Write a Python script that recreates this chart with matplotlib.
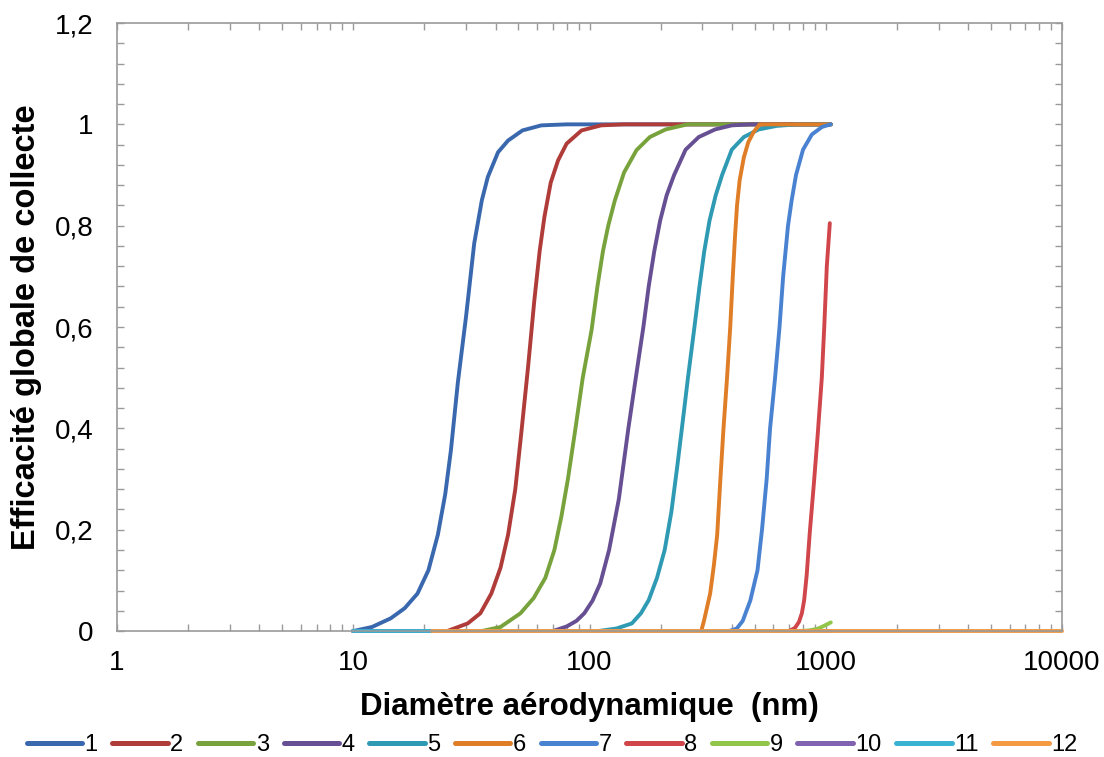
import matplotlib
matplotlib.use("Agg")
import matplotlib.pyplot as plt
from matplotlib.ticker import FuncFormatter, LogLocator, MultipleLocator

plt.rcParams['font.family'] = ['Liberation Sans', 'DejaVu Sans']

# diametre (nm) / efficacite
d1 = [10, 12, 14.4, 16.5, 18.7, 20.8, 22.8, 24.5, 25.9, 27.7, 30.0, 32.5, 35.0, 37.1, 41.0, 45.2, 52.0, 62.5, 80.0, 1050]
e1 = [0, 0.008, 0.025, 0.045, 0.074, 0.12, 0.19, 0.27, 0.357, 0.49, 0.62, 0.765, 0.85, 0.896, 0.945, 0.968, 0.988, 0.998, 1.0, 1.0]

d2 = [10, 25, 30.5, 34.5, 38.4, 42, 45.2, 48.5, 51.4, 54.9, 58.4, 61.5, 64.4, 68.5, 73.6, 80, 92.5, 112, 140, 1050]
e2 = [0, 0, 0.015, 0.035, 0.074, 0.125, 0.19, 0.28, 0.39, 0.52, 0.653, 0.75, 0.817, 0.885, 0.929, 0.962, 0.988, 0.998, 1.0, 1.0]

d3 = [10, 35, 42, 51, 58, 65, 71, 76, 81, 87, 93.6, 102, 108, 114, 120, 128, 140, 158, 180, 210, 260, 1050]
e3 = [0, 0, 0.008, 0.035, 0.065, 0.105, 0.16, 0.226, 0.30, 0.397, 0.5, 0.594, 0.68, 0.75, 0.80, 0.85, 0.905, 0.949, 0.975, 0.99, 1.0, 1.0]

d4 = [10, 70, 80, 88, 95, 103, 111, 121, 133, 146, 157, 169, 178, 188, 199, 212, 228, 255, 290, 340, 400, 480, 1050]
e4 = [0, 0, 0.009, 0.02, 0.035, 0.06, 0.094, 0.16, 0.26, 0.40, 0.50, 0.60, 0.68, 0.75, 0.81, 0.86, 0.90, 0.95, 0.975, 0.99, 0.998, 1.0, 1.0]

d5 = [10, 109, 130, 151, 165, 178, 193, 208, 222, 235, 246, 261, 278, 292, 306, 322, 342, 364, 400, 450, 520, 620, 760, 1050]
e5 = [0, 0, 0.005, 0.015, 0.035, 0.061, 0.105, 0.16, 0.235, 0.324, 0.40, 0.50, 0.60, 0.68, 0.75, 0.81, 0.86, 0.90, 0.95, 0.975, 0.99, 0.997, 1.0, 1.0]

d6 = [10, 297, 305, 324, 336, 347, 358, 369, 382, 394, 404, 413, 421, 432, 450, 470, 495, 525, 1050]
e6 = [0, 0, 0.02, 0.074, 0.13, 0.19, 0.30, 0.40, 0.50, 0.60, 0.70, 0.78, 0.84, 0.89, 0.935, 0.965, 0.985, 1.0, 1.0]

d7 = [10, 390, 420, 445, 479, 514, 537, 562, 581, 610, 637, 660, 692, 717, 748, 801, 873, 965, 1050]
e7 = [0, 0, 0.005, 0.02, 0.06, 0.12, 0.20, 0.30, 0.40, 0.50, 0.60, 0.70, 0.80, 0.85, 0.90, 0.95, 0.98, 0.995, 1.0]

d8 = [10, 698, 740, 770, 792, 810, 830, 855, 890, 925, 962, 985, 1010, 1040]
e8 = [0, 0, 0.006, 0.018, 0.035, 0.061, 0.11, 0.193, 0.29, 0.39, 0.50, 0.60, 0.72, 0.805]

d9 = [10, 800, 870, 930, 970, 1010, 1050]
e9 = [0, 0, 0.002, 0.005, 0.009, 0.013, 0.017]

d10 = [10, 1050]
e10 = [0, 0]

d11 = [10, 1050]
e11 = [0, 0]

d12 = [21.5, 10000]
e12 = [0, 0]

names = ["1", "2", "3", "4", "5", "6", "7", "8", "9", "10", "11", "12"]
colors = ["#3A68AE", "#B03C3A", "#78A33C", "#674F93", "#2F9AB3", "#E07D27",
          "#4A82D2", "#D0464B", "#92C64A", "#8062B0", "#3AB2D2", "#F39A42"]

series = [(d1, e1), (d2, e2), (d3, e3), (d4, e4), (d5, e5), (d6, e6),
          (d7, e7), (d8, e8), (d9, e9), (d10, e10), (d11, e11), (d12, e12)]

fig = plt.figure(figsize=(11.04, 7.57), dpi=100)
ax = fig.add_axes([0.106, 0.1664, 0.856, 0.8032])

for (d, e), name, c in zip(series, names, colors):
    ax.plot(d, e, color=c, lw=2.8, label=name, clip_on=False,
            solid_capstyle="round", solid_joinstyle="round")

ax.set_xscale("log")
ax.set_xlim(1, 10000)
ax.set_ylim(0, 1.2)
ax.set_xticks([1, 10, 100, 1000, 10000])
ax.xaxis.set_major_formatter(FuncFormatter(lambda v, p: f"{v:.0f}"))
ax.xaxis.set_minor_locator(LogLocator(base=10, subs=range(2, 10)))
ax.xaxis.set_minor_formatter(FuncFormatter(lambda v, p: ""))
ax.set_yticks([0, 0.2, 0.4, 0.6, 0.8, 1.0, 1.2])
ax.yaxis.set_major_formatter(FuncFormatter(lambda v, p: f"{v:g}".replace(".", ",")))
ax.yaxis.set_minor_locator(MultipleLocator(0.04))

ax.tick_params(which="both", direction="in", top=True, right=True, length=5,
               width=1, color="#9a9a9a")
ax.tick_params(axis="y", which="major", labelsize=20, pad=17)
ax.tick_params(axis="x", which="major", labelsize=20, pad=14)
for s in ax.spines.values():
    s.set_color("#9a9a9a")
    s.set_linewidth(1.2)

ax.set_xlabel("Diamètre aérodynamique  (nm)", fontsize=22.5, fontweight="bold", labelpad=11)
ax.set_ylabel("Efficacité globale de collecte", fontsize=23.5, fontweight="bold", labelpad=9)

leg = fig.legend(loc="center", bbox_to_anchor=(0.5, 1 - 745 / 757), ncol=12, frameon=False,
                 fontsize=17, handlelength=2.35, handletextpad=0.1, columnspacing=0.62)
for ln in leg.get_lines():
    ln.set_linewidth(3.6)

fig.savefig("out.png", dpi=100)
